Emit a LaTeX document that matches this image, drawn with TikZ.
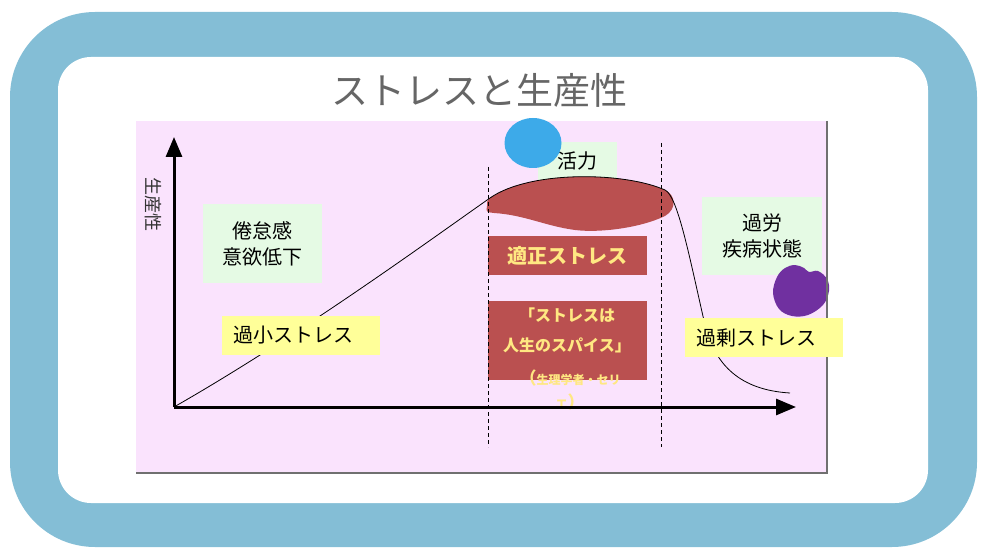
\documentclass[tikz,border=0pt]{standalone}
\usepackage{fontspec}
\setmainfont{Noto Sans CJK JP}
\usepackage{xcolor}
\usetikzlibrary{arrows.meta,positioning}

\definecolor{ringblue}{RGB}{132,190,214}
\definecolor{panelpink}{RGB}{250,227,253}
\definecolor{panelgray}{RGB}{112,112,112}
\definecolor{softgreen}{RGB}{229,250,228}
\definecolor{softyellow}{RGB}{255,255,153}
\definecolor{stressred}{RGB}{186,80,80}
\definecolor{noteyellow}{RGB}{255,232,130}
\definecolor{dotblue}{RGB}{61,170,233}
\definecolor{dotpurple}{RGB}{112,48,160}
\definecolor{titlegray}{RGB}{102,102,102}

\begin{document}
\begin{tikzpicture}[
    x=1pt, y=-1pt,
    greenbox/.style={fill=softgreen, align=center, inner sep=0pt, font=\fontsize{20}{26}\selectfont},
    yellowbox/.style={fill=softyellow, anchor=west, text width=136pt, align=left, inner xsep=11pt, inner ysep=0pt, minimum height=39pt, font=\fontsize{20}{24}\selectfont},
    redbox/.style={fill=stressred, minimum width=159pt, inner sep=0pt},
    redtext/.style={text=noteyellow, align=center, inner sep=0pt, font=\bfseries},
    axis/.style={line width=3pt, -{Triangle[length=20pt,width=16pt]}},
    guide/.style={dashed, line width=0.8pt, dash pattern=on 4pt off 3pt}
]
\useasboundingbox (0,0) rectangle (988,559);

% frame
\fill[ringblue, rounded corners=85pt] (10,12) rectangle (977,547);
\fill[white, rounded corners=33pt] (58,57) rectangle (928,503);

\node[text=titlegray, font=\fontsize{37}{40}\selectfont] (title) at (479,90) {ストレスと生産性};

% panel
\fill[panelpink] (136,121) rectangle (827,473);

\node[greenbox, minimum width=119pt, minimum height=79pt] (fatigue) at (262.5,243.5) {倦怠感\\意欲低下};
\node[greenbox, minimum width=79pt, minimum height=38pt] (vitality) at (577.5,161) {活力};
\node[greenbox, minimum width=120pt, minimum height=78pt] (overwork) at (762,236) {過労\\疾病状態};

\fill[dotblue] (533,143) ellipse [x radius=28.5pt, y radius=25pt];

% optimum zone
\fill[stressred] (487,206)
    .. controls (487,201) .. (490,198)
    .. controls (530,170) and (625,172) .. (665,190)
    .. controls (676,195) and (677,209) .. (665,216)
    .. controls (640,228) and (600,233) .. (575,230)
    .. controls (545,226) and (525,215) .. (494,213)
    .. controls (486,212) .. cycle;

% performance curve
\coordinate (origin) at (174,407);
\coordinate (ytip) at (174,137);
\coordinate (xtip) at (796,407);
\coordinate (curveend) at (790,393);
\draw[line width=0.8pt] (origin)
    .. controls (300,335) and (430,240) .. (490,198)
    .. controls (530,170) and (625,172) .. (665,190)
    .. controls (678,196) and (690,260) .. (705,325)
    .. controls (715,365) and (740,390) .. (curveend);

\node[redbox, minimum height=39pt] (optimum) at (567.5,255.5) {};
\node[redtext, font=\fontsize{20}{24}\selectfont\bfseries] (optimumlabel) at (optimum) {適正ストレス};
\node[redbox, minimum height=79pt] (quotebox) at (567.5,340.5) {};
\node[redtext, font=\fontsize{16}{30}\selectfont\bfseries] (quotetext) at (567,330) {「ストレスは\\人生のスパイス」};
\node[redtext, font=\fontsize{12}{24}\selectfont\bfseries] (quotenote) at (570,390)
    {{\fontsize{17}{24}\selectfont （}生理学者・セリ\\エ{\fontsize{17}{24}\selectfont ）}};

\draw[guide] (488,167) -- (488,447);
\draw[guide] (661,143) -- (661,447);

\fill[dotpurple] plot[smooth cycle, tension=0.6] coordinates {
    (795,265) (804,268) (809,272) (818,271) (827,279) (829,291) (823,305)
    (808,315) (792,316) (779,309) (773,293) (777,277) (785,268)};

\draw[panelgray, line width=2.5pt] (827,121) -- (827,473) -- (136,473);

\node[yellowbox] (lowstress) at (222,335.5) {過小ストレス};
\node[yellowbox] (highstress) at (685,337.5) {過剰ストレス};

% axes
\draw[axis] (origin) -- (ytip);
\draw[axis] (origin) -- (xtip);
\node[rotate=-90, text=black!80, font=\fontsize{18}{18}\selectfont] (ylabel) at (153,205) {生産性};

\end{tikzpicture}
\end{document}
